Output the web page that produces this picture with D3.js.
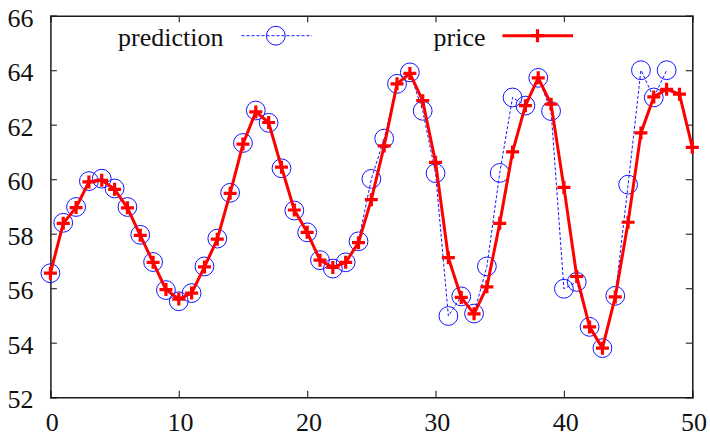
<!DOCTYPE html>
<html>
<head>
<meta charset="utf-8">
<script src="https://cdn.jsdelivr.net/npm/d3@7"></script>
<style>
  html, body { margin: 0; padding: 0; background: #fff; }
  svg { display: block; }
</style>
</head>
<body>
<svg id="chart" width="710" height="437" font-family="Liberation Serif, Times New Roman, serif"></svg>
<script>
// Daily price and the model's one-step prediction
const days = d3.range(0, 51);
const price = [
  56.55, 58.38, 58.96, 59.9, 59.96, 59.63, 58.95, 57.94, 56.95, 55.95,
  55.6, 55.82, 56.78, 57.8, 59.48, 61.29, 62.47, 62.08, 60.44, 58.87,
  58.05, 57.03, 56.76, 56.95, 57.67, 59.25, 61.22, 63.5, 63.88, 62.88,
  60.62, 57.12, 55.66, 55.06, 56.05, 58.38, 61.0, 62.7, 63.72, 62.75,
  59.7, 56.43, 54.58, 53.8, 55.68, 58.42, 61.7, 63.02, 63.3, 63.12,
  61.17
];
const predictionDays = d3.range(0, 49);
const prediction = [
  56.55, 58.4, 58.98, 59.93, 60.02, 59.66, 58.98, 57.96, 56.96, 55.93,
  55.52, 55.82, 56.8, 57.82, 59.5, 61.33, 62.52, 62.07, 60.4, 58.85,
  58.05, 57.03, 56.72, 56.95, 57.72, 60.01, 61.49, 63.5, 63.92, 62.51,
  60.22, 54.98, 55.7, 55.07, 56.8, 60.23, 63.0, 62.7, 63.72, 62.5,
  55.98, 56.23, 54.58, 53.8, 55.72, 59.8, 64.0, 63.0, 64.0
];
const xTicks = [0, 10, 20, 30, 40, 50];
const yTicks = [52, 54, 56, 58, 60, 62, 64, 66];
const legendLabels = ["prediction", "price"];

const svg = d3.select("#chart");
const W = 710, H = 437;
const margin = { left: 50.4, right: W - 692.3, top: 15.7, bottom: H - 397.2 };

const x = d3.scaleLinear().domain([0, 50]).range([margin.left, W - margin.right]);
const y = d3.scaleLinear().domain([52, 66]).range([H - margin.bottom, margin.top]);

const tickLen = 6.5;
const fontSize = 26;
const fontFamily = "Liberation Serif, Times New Roman, serif";

// Axes: labelled bottom/left, mirrored ticks on top/right
const gBottom = svg.append("g")
  .attr("transform", `translate(0,${y(52)})`)
  .call(d3.axisBottom(x).tickValues(xTicks).tickSize(-tickLen).tickPadding(15.5).tickFormat(d3.format("d")));
const gTop = svg.append("g")
  .attr("transform", `translate(0,${y(66)})`)
  .call(d3.axisTop(x).tickValues(xTicks).tickSize(-tickLen).tickFormat(""));
const gLeft = svg.append("g")
  .attr("transform", `translate(${x(0)},0)`)
  .call(d3.axisLeft(y).tickValues(yTicks).tickSize(-tickLen).tickPadding(17).tickFormat(d3.format("d")));
const gRight = svg.append("g")
  .attr("transform", `translate(${x(50)},0)`)
  .call(d3.axisRight(y).tickValues(yTicks).tickSize(-tickLen).tickFormat(""));

[gBottom, gTop, gLeft, gRight].forEach(g => {
  g.attr("font-family", fontFamily).attr("font-size", fontSize);
  g.select(".domain").attr("stroke", "#1a1a1a").attr("stroke-width", 1.5);
  g.selectAll(".tick line").attr("stroke", "#333").attr("stroke-width", 1.2);
  g.selectAll("text").attr("fill", "#111");
});
// the corner ticks coincide with the frame
[gBottom, gTop].forEach(g => g.selectAll(".tick line").filter(d => d === 0 || d === 50).remove());
[gLeft, gRight].forEach(g => g.selectAll(".tick line").filter(d => d === 52 || d === 66).remove());
gLeft.selectAll(".tick text").attr("dy", "0.4em");
gBottom.selectAll(".tick text").attr("dx", "0.05em");

const blue = "#1414ff";
const red = "#ff0000";

// prediction: thin dashed line with open circles
const predPts = predictionDays.map((d, i) => [d, prediction[i]]);
const line = d3.line().x(d => x(d[0])).y(d => y(d[1]));
svg.append("path")
  .datum(predPts)
  .attr("d", line)
  .attr("fill", "none")
  .attr("stroke", blue)
  .attr("stroke-width", 1)
  .attr("stroke-dasharray", "3,2");
svg.append("g").selectAll("circle")
  .data(predPts)
  .join("circle")
  .attr("cx", d => x(d[0]))
  .attr("cy", d => y(d[1]))
  .attr("r", 9.4)
  .attr("fill", "none")
  .attr("stroke", blue)
  .attr("stroke-width", 1);

// price: thick solid line with plus markers
const pricePts = days.map((d, i) => [d, price[i]]);
svg.append("path")
  .datum(pricePts)
  .attr("d", line)
  .attr("fill", "none")
  .attr("stroke", red)
  .attr("stroke-width", 3)
  .attr("stroke-linejoin", "round");
const plus = 6.5;
const plusPath = (cx, cy) => `M${cx - plus},${cy}H${cx + plus}M${cx},${cy - plus}V${cy + plus}`;
svg.append("g").selectAll("path")
  .data(pricePts)
  .join("path")
  .attr("d", d => plusPath(x(d[0]), y(d[1])))
  .attr("stroke", red)
  .attr("stroke-width", 3.2)
  .attr("fill", "none");

// legend
const legY = 35.7;
const leg = svg.append("g").attr("font-family", fontFamily).attr("font-size", fontSize);
leg.append("text")
  .attr("x", 223.5).attr("y", 46)
  .attr("text-anchor", "end")
  .attr("fill", "#111")
  .text(legendLabels[0]);
leg.append("line")
  .attr("x1", 241.5).attr("x2", 312).attr("y1", legY).attr("y2", legY)
  .attr("stroke", blue).attr("stroke-width", 1).attr("stroke-dasharray", "3,2");
leg.append("circle")
  .attr("cx", 275.8).attr("cy", legY).attr("r", 9.4)
  .attr("fill", "none").attr("stroke", blue).attr("stroke-width", 1);
leg.append("text")
  .attr("x", 485.5).attr("y", 46)
  .attr("text-anchor", "end")
  .attr("fill", "#111")
  .text(legendLabels[1]);
leg.append("line")
  .attr("x1", 502.5).attr("x2", 573).attr("y1", legY).attr("y2", legY)
  .attr("stroke", red).attr("stroke-width", 3);
leg.append("path")
  .attr("d", plusPath(537.5, legY))
  .attr("stroke", red).attr("stroke-width", 3.2).attr("fill", "none");
</script>
</body>
</html>
